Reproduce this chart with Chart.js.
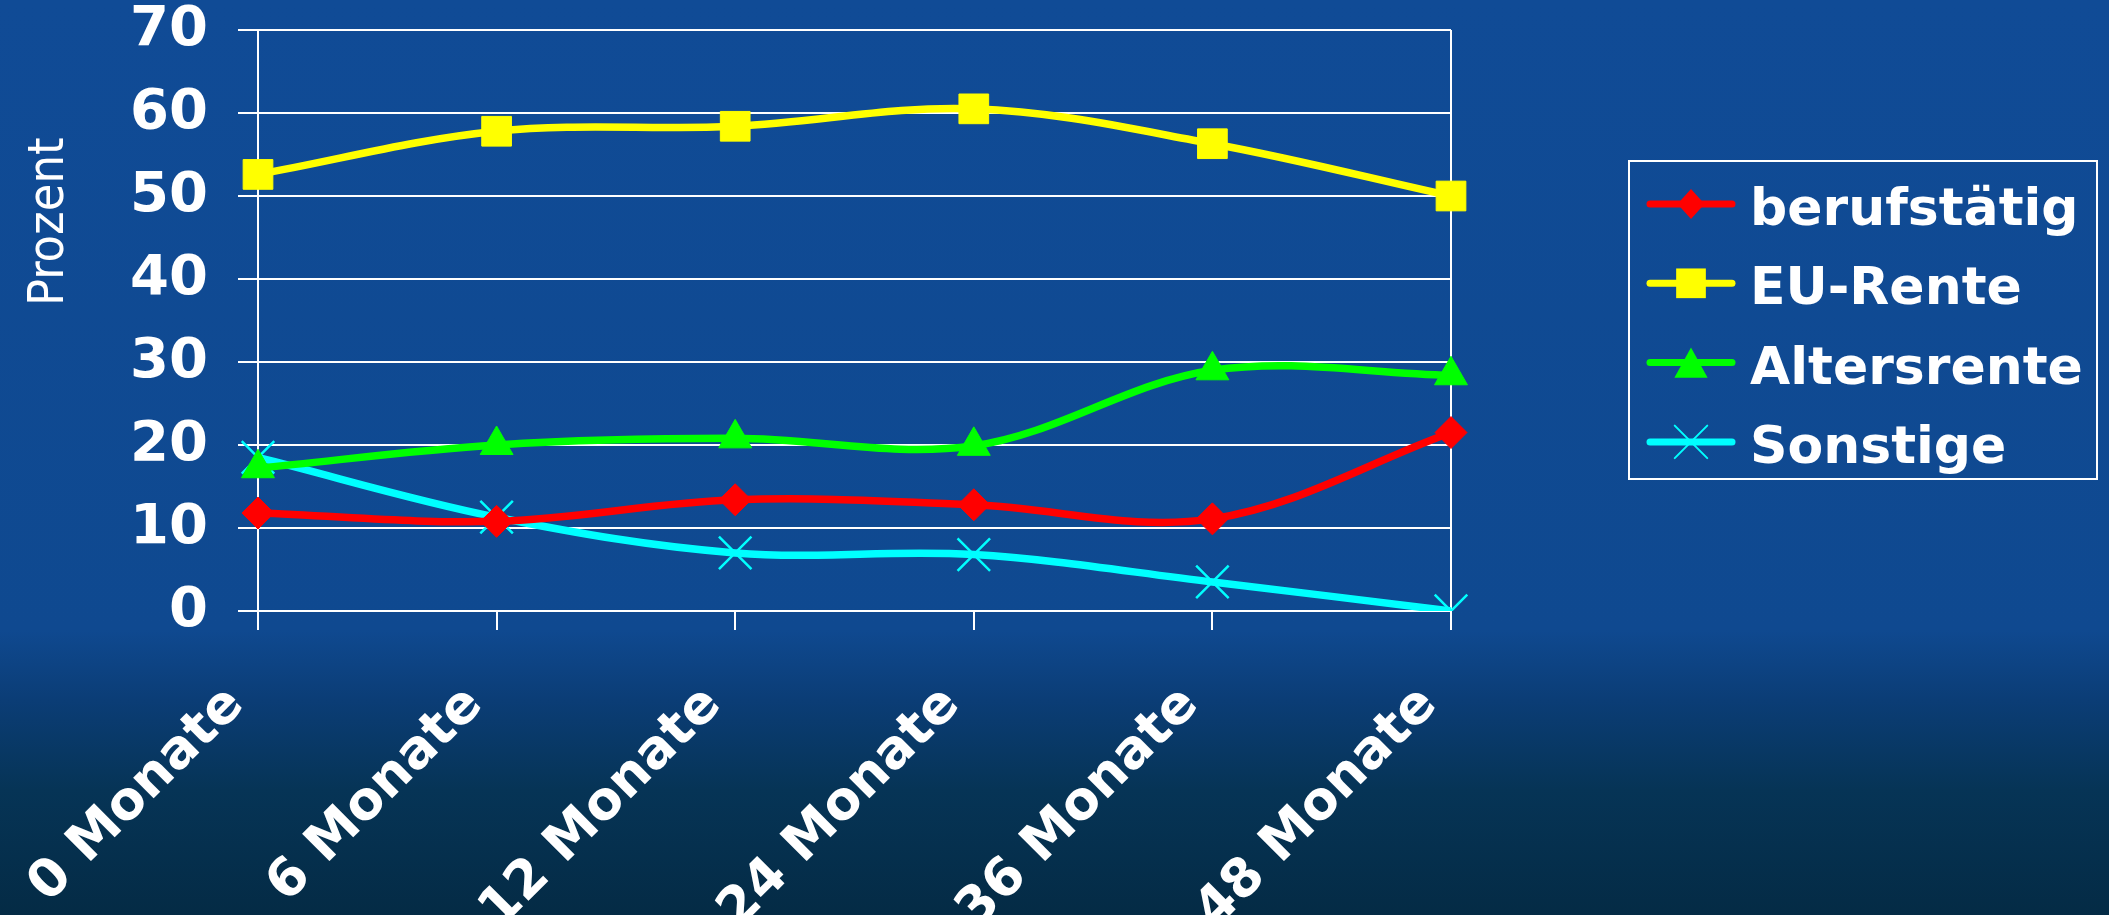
<!DOCTYPE html>
<html><head><meta charset="utf-8">
<script src="https://cdn.jsdelivr.net/npm/chart.js@4/dist/chart.umd.min.js"></script>
<style>
html,body{margin:0;padding:0;width:2109px;height:915px;overflow:hidden;}
body{background:linear-gradient(to bottom,#104b96 0px,#0f4990 630px,#0b3d76 700px,#063456 790px,#042b45 915px);}
#wrap{position:relative;width:2109px;height:915px;}
canvas{display:block;}
</style></head><body><div id="wrap"><canvas id="c" width="2109" height="915"></canvas></div>
<script>
const categories = ['0 Monate','6 Monate','12 Monate','24 Monate','36 Monate','48 Monate'];
const berufstaetig = [11.8, 10.8, 13.4, 12.8, 11.1, 21.5];
const euRente = [52.6, 57.8, 58.4, 60.5, 56.3, 50.0];
const altersrente = [17.2, 20.0, 20.8, 19.9, 29.0, 28.4];
const sonstige = [18.5, 11.3, 7.0, 6.8, 3.5, 0];
const yTicks = [0, 10, 20, 30, 40, 50, 60, 70];
const seriesNames = ['berufstätig', 'EU-Rente', 'Altersrente', 'Sonstige'];
const yTitle = 'Prozent';

const FAM = "'DejaVu Sans', sans-serif";
const FAMC = "'DejaVu Sans Condensed', 'DejaVu Sans', sans-serif";
const styles = [
  {color:'#ff0000', point:'rectRot', r:16, bw:1, lr:15},
  {color:'#ffff00', point:'rect', r:21, bw:1, lr:21},
  {color:'#00ff00', point:'triangle', r:19, bw:1, lr:19},
  {color:'#00ffff', point:'crossRot', r:23, bw:2.5, lr:23}
];
const seriesData = [berufstaetig, euRente, altersrente, sonstige];

const datasets = seriesData.map((d, i) => ({
  label: seriesNames[i],
  data: d,
  borderColor: styles[i].color,
  backgroundColor: styles[i].color,
  borderWidth: 7.5,
  pointStyle: styles[i].point,
  pointRadius: styles[i].r,
  pointHoverRadius: styles[i].r,
  pointBackgroundColor: styles[i].color,
  pointBorderColor: styles[i].color,
  pointBorderWidth: styles[i].bw,
  tension: 0.35,
  fill: false
}));

function drawMarker(ctx, style, r, bw, x, y, color) {
  ctx.save();
  ctx.fillStyle = color; ctx.strokeStyle = color; ctx.lineWidth = bw;
  ctx.beginPath();
  if (style === 'rect') {
    const s = Math.SQRT1_2 * r;
    ctx.rect(x - s, y - s, 2 * s, 2 * s);
    ctx.fill();
  } else if (style === 'rectRot') {
    ctx.moveTo(x, y - r); ctx.lineTo(x + r * 0.9, y); ctx.lineTo(x, y + r); ctx.lineTo(x - r * 0.9, y); ctx.closePath();
    ctx.fill();
  } else if (style === 'triangle') {
    const h = r * 1.6, w = r * 1.75;
    ctx.moveTo(x, y - h / 2); ctx.lineTo(x + w / 2, y + h / 2); ctx.lineTo(x - w / 2, y + h / 2); ctx.closePath();
    ctx.fill();
  } else if (style === 'crossRot') {
    const s = Math.SQRT1_2 * r;
    ctx.moveTo(x - s, y - s); ctx.lineTo(x + s, y + s);
    ctx.moveTo(x + s, y - s); ctx.lineTo(x - s, y + s);
    ctx.stroke();
  }
  ctx.restore();
}

const decor = {
  id: 'decor',
  afterDraw(chart) {
    const ctx = chart.ctx;
    const ca = chart.chartArea;
    ctx.save();
    ctx.translate(50, ca.top + (ca.bottom - ca.top) * 0.33);
    ctx.rotate(-Math.PI / 2);
    ctx.fillStyle = '#ffffff';
    ctx.font = "50px " + FAMC;
    ctx.textAlign = 'center';
    ctx.textBaseline = 'middle';
    ctx.fillText(yTitle, 0, 0);
    ctx.restore();
    const lx = 1629, ly = 161, lw = 468, lh = 318;
    ctx.save();
    ctx.strokeStyle = '#ffffff'; ctx.lineWidth = 2;
    ctx.strokeRect(lx, ly, lw, lh);
    ctx.font = "bold 52px " + FAM;
    ctx.textAlign = 'left';
    ctx.textBaseline = 'alphabetic';
    seriesNames.forEach((name, i) => {
      const ry = 204 + i * 79.3;
      const st = styles[i];
      ctx.strokeStyle = st.color; ctx.lineWidth = 7; ctx.lineCap = 'round';
      ctx.beginPath(); ctx.moveTo(1650, ry); ctx.lineTo(1732, ry); ctx.stroke();
      drawMarker(ctx, st.point, st.lr, 2, 1691, ry, st.color);
      ctx.fillStyle = '#ffffff';
      ctx.fillText(name, 1750, ry + 21);
    });
    ctx.restore();
  }
};

new Chart(document.getElementById('c'), {
  type: 'line',
  data: { labels: categories, datasets },
  options: {
    responsive: false,
    devicePixelRatio: 1,
    animation: false,
    layout: { padding: { left: 0, top: 30, right: 658, bottom: 0 } },
    plugins: { legend: { display: false }, tooltip: { enabled: false } },
    scales: {
      x: {
        offset: false,
        grid: {
          color: (c) => (c.index === categories.length - 1 ? '#ffffff' : 'rgba(0,0,0,0)'),
          lineWidth: 2,
          tickColor: '#ffffff',
          tickLength: 19,
          drawTicks: true
        },
        border: { display: true, color: '#ffffff', width: 2 },
        ticks: {
          color: '#ffffff',
          font: { family: FAM, size: 53, weight: 'bold' },
          maxRotation: 45, minRotation: 45,
          autoSkip: false,
          padding: 44,
          labelOffset: -22
        },
        afterFit: (s) => { s.height = 304; s.paddingLeft = 0; s.paddingRight = 0; }
      },
      y: {
        min: 0, max: 70,
        afterBuildTicks: (s) => { s.ticks = yTicks.map(v => ({ value: v })); },
        grid: { color: '#ffffff', lineWidth: 2, tickColor: '#ffffff', tickLength: 20 },
        border: { display: true, color: '#ffffff', width: 2 },
        ticks: {
          color: '#ffffff',
          font: { family: FAM, size: 56, weight: 'bold', lineHeight: 1 },
          padding: 30
        },
        afterFit: (s) => { s.width = 258; s.paddingTop = 0; s.paddingBottom = 0; }
      }
    }
  },
  plugins: [decor]
});
</script></body></html>
